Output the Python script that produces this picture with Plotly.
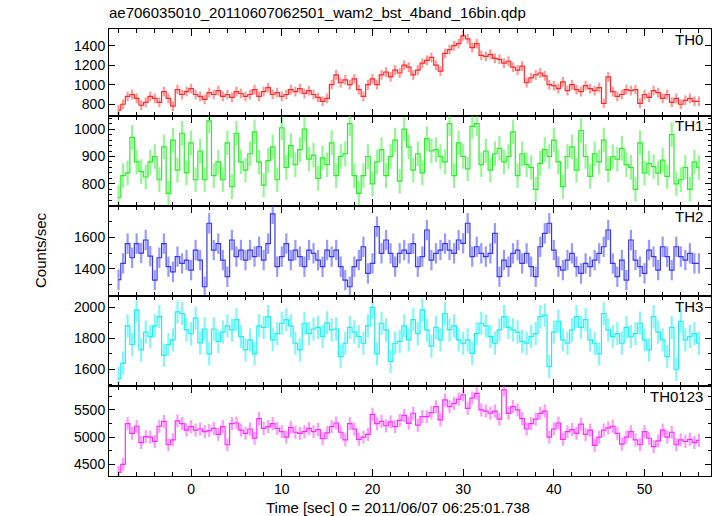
import plotly.graph_objects as go

# ---------------- data (0.5 s bins) ----------------
T_START = -8.0
BIN = 0.5

TH0 = [740, 800, 880, 900, 860, 790, 820, 880, 860, 820, 930, 860, 780, 950, 900, 930,
       960, 900, 880, 850, 920, 900, 940, 880, 900, 870, 930, 910, 880, 900, 950, 880,
       930, 970, 900, 920, 880, 900, 950, 930, 960, 910, 940, 900, 870, 830, 860, 1000,
       1100, 1020, 1050, 1000, 1060, 950, 880, 1000, 1060, 1000, 1100, 1130, 1080, 1150, 1120, 1200,
       1180, 1100, 1150, 1220, 1250, 1280, 1200, 1140, 1320, 1360, 1400, 1420, 1500, 1470, 1380, 1420,
       1300, 1290, 1310, 1270, 1260, 1220, 1240, 1180, 1150, 1190, 1020, 1070, 1100, 1120, 1090, 1000,
       990, 960, 1030, 940, 1000, 950, 930, 990, 960, 940, 970, 810, 1080, 930, 880, 900,
       950, 940, 950, 810, 900, 870, 940, 920, 860, 900, 820, 860, 800, 840, 860, 830, 830]

TH1 = [750, 830, 840, 970, 880, 845, 825, 880, 900, 815, 935, 765, 960, 850, 985, 840,
       950, 815, 920, 815, 1030, 830, 880, 815, 950, 790, 985, 880, 850, 910, 990, 880,
       795, 885, 935, 815, 1005, 860, 940, 870, 925, 1000, 890, 905, 820, 895, 870, 950,
       830, 900, 910, 1020, 830, 765, 830, 900, 800, 880, 925, 830, 900, 960, 810, 1000,
       935, 850, 910, 840, 965, 920, 925, 900, 880, 1020, 830, 950, 900, 855, 1010, 1020,
       870, 920, 850, 910, 930, 880, 900, 990, 830, 910, 870, 860, 780, 875, 925, 900,
       960, 880, 790, 900, 935, 850, 995, 900, 827, 910, 880, 960, 851, 900, 890, 930,
       870, 860, 780, 950, 840, 875, 863, 839, 887, 827, 980, 800, 815, 860, 780, 880, 860]

TH2 = [1330, 1434, 1560, 1470, 1560, 1500, 1583, 1480, 1327, 1470, 1560, 1413, 1380, 1477, 1434, 1455,
       1391, 1519, 1455, 1285, 1690, 1519, 1560, 1455, 1349, 1583, 1477, 1519, 1455, 1519, 1477, 1540,
       1455, 1560, 1750, 1413, 1477, 1560, 1455, 1519, 1477, 1413, 1519, 1498, 1455, 1413, 1519, 1477,
       1519, 1413, 1327, 1285, 1413, 1455, 1540, 1370, 1434, 1668, 1498, 1583, 1498, 1413, 1498, 1519,
       1498, 1560, 1413, 1477, 1647, 1455, 1498, 1519, 1560, 1519, 1498, 1583, 1562, 1690, 1477, 1540,
       1498, 1477, 1498, 1626, 1349, 1455, 1413, 1498, 1519, 1434, 1498, 1413, 1349, 1540, 1626, 1690,
       1519, 1413, 1391, 1455, 1498, 1413, 1370, 1434, 1413, 1455, 1498, 1540, 1647, 1434, 1349, 1455,
       1327, 1583, 1455, 1413, 1370, 1519, 1477, 1391, 1540, 1477, 1391, 1540, 1477, 1455, 1498, 1434, 1434]

TH3 = [1540, 1640, 1880, 1760, 1983, 1725, 1840, 1811, 1880, 1940, 1690, 1760, 1790, 1970, 1960, 1854,
       1830, 1930, 1770, 1860, 1700, 1860, 1780, 1840, 1880, 1854, 1920, 1811, 1725, 1790, 1700, 1880,
       1870, 1940, 1790, 1830, 1897, 1920, 1880, 1768, 1725, 1897, 1830, 1860, 1870, 1811, 1900, 1854,
       1860, 1682, 1768, 1870, 1840, 1811, 1768, 1880, 2000, 1700, 1897, 1854, 1650, 1768, 1780, 1880,
       1790, 1920, 1830, 1983, 1854, 1750, 1870, 1790, 1960, 1854, 1880, 1790, 1768, 1790, 1703, 1830,
       1897, 1880, 1811, 1768, 1854, 1940, 1870, 1854, 1840, 1780, 1768, 1811, 1830, 1940, 1950, 1617,
       1840, 1910, 1790, 1768, 1854, 1940, 1870, 1920, 1790, 1768, 1700, 1960, 1854, 1811, 1830, 1768,
       1870, 1811, 1830, 1897, 1790, 1725, 1940, 1840, 1790, 1682, 1870, 1600, 1910, 1790, 1811, 1830, 1768]

TH0123 = [4350, 4500, 5250, 5071, 5200, 4900, 5010, 5000, 4920, 5200, 5290, 4860, 4950, 5300, 5250, 5130,
          5194, 5130, 5150, 5100, 5120, 5160, 5050, 5194, 4860, 5250, 5260, 5130, 5071, 5150, 4980, 5340,
          5160, 5194, 5250, 5160, 5100, 5000, 5180, 5090, 5071, 5100, 5160, 5100, 5140, 4970, 5080, 5194,
          5260, 5090, 4950, 5250, 5150, 4960, 5000, 5050, 5420, 5250, 5290, 5210, 5280, 5194, 5310, 5400,
          5255, 5440, 5220, 5380, 5377, 5450, 5560, 5316, 5684, 5560, 5620, 5700, 5780, 5530, 5720, 5806,
          5500, 5480, 5440, 5480, 5330, 5868, 5439, 5560, 5500, 5340, 5150, 5250, 5330, 5439, 5480, 5000,
          5150, 5260, 4960, 5100, 5140, 5071, 5240, 5050, 5130, 4850, 5000, 5130, 5170, 5200, 5071, 4870,
          5000, 5100, 4950, 4860, 5100, 4980, 4826, 4930, 5130, 5000, 5090, 4860, 4950, 4920, 4960, 4900, 4940]

PANEL_NAMES = ["TH0", "TH1", "TH2", "TH3", "TH0123"]
PANEL_DATA = [TH0, TH1, TH2, TH3, TH0123]
PANEL_ERR = [50, 45, 65, 75, 120]
Y_RANGES = [[680, 1570], [719, 1048], [1226, 1800], [1492, 2073], [4285, 5941]]
Y_TICKS = [[800, 1000, 1200, 1400], [800, 900, 1000], [1400, 1600],
           [1600, 1800, 2000], [4500, 5000, 5500]]
Y_MINOR = [None, 20, 100, 100, 250]
X_TICKS = [0, 10, 20, 30, 40, 50]

TITLE = "ae706035010_20110607062501_wam2_bst_4band_16bin.qdp"
X_TITLE = "Time [sec] 0 = 2011/06/07 06:25:01.738"
Y_TITLE = "Counts/sec"

LINE_COLORS = ["#ff2a2a", "#2aee2a", "#3838f0", "#1ef0f0", "#ff2aff"]
ERR_COLORS = ["rgba(255,70,70,0.55)", "rgba(60,240,60,0.55)", "rgba(70,70,255,0.55)",
              "rgba(30,240,240,0.55)", "rgba(255,70,255,0.55)"]

# ---------------- layout geometry ----------------
W, H = 717, 516
ML, MR, MT, MB = 109, 6, 29, 40
PH = H - MT - MB
panel_px = [29, 116, 206, 296, 386, 476]


def py(px):
    return (H - MB - px) / PH


FONT = "Liberation Sans, Arial, Helvetica, sans-serif"

fig = go.Figure()
n = len(TH0)
times = [T_START + BIN * i for i in range(n)]

for i, (name, vals) in enumerate(zip(PANEL_NAMES, PANEL_DATA)):
    k = i + 1
    fig.add_trace(go.Scatter(
        x=times, y=vals, mode="lines", line=dict(color=LINE_COLORS[i], width=1.2, shape="hvh"),
        error_y=dict(type="constant", value=PANEL_ERR[i], color=ERR_COLORS[i], thickness=2.2, width=0),
        xaxis=f"x{k}", yaxis=f"y{k}", showlegend=False, hoverinfo="skip"))

layout = dict(
    width=W, height=H, margin=dict(l=ML, r=MR, t=MT, b=MB),
    paper_bgcolor="white", plot_bgcolor="white",
    font=dict(family=FONT, size=14, color="black"),
    showlegend=False,
)
for i in range(5):
    k = i + 1
    suf = "" if k == 1 else str(k)
    dom = [py(panel_px[i + 1]), py(panel_px[i])]
    layout["xaxis" + suf] = dict(
        domain=[0, 1], anchor="y" + str(k), range=[-9.05, 57.33],
        showline=True, linecolor="black", linewidth=1, mirror="allticks",
        ticks="inside", ticklen=7, tickcolor="black", tickvals=X_TICKS,
        minor=dict(ticks="inside", ticklen=4, dtick=2, tick0=0, tickcolor="black"),
        showgrid=False, zeroline=False, showticklabels=(k == 5),
        tickfont=dict(size=14, family=FONT, color="black"),
    )
    ydict = dict(
        domain=dom, anchor="x" + str(k), range=Y_RANGES[i],
        showline=True, linecolor="black", linewidth=1, mirror="allticks",
        ticks="inside", ticklen=6, tickcolor="black", tickvals=Y_TICKS[i],
        showgrid=False, zeroline=False,
        tickfont=dict(size=14, family=FONT, color="black"),
    )
    if Y_MINOR[i]:
        ydict["minor"] = dict(ticks="inside", ticklen=3, dtick=Y_MINOR[i], tickcolor="black")
    layout["yaxis" + suf] = ydict

annotations = [
    dict(text=TITLE, xref="paper", yref="paper", x=-0.003, y=py(13), xanchor="left",
         yanchor="middle", showarrow=False, font=dict(size=15, family=FONT, color="black")),
    dict(text=X_TITLE, xref="paper", yref="paper", x=(398 - ML) / (W - ML - MR), y=py(507),
         xanchor="center", yanchor="middle", showarrow=False,
         font=dict(size=15, family=FONT, color="black")),
    dict(text=Y_TITLE, xref="paper", yref="paper", x=(40 - ML) / (W - ML - MR), y=py(250),
         xanchor="center", yanchor="middle", textangle=-90, showarrow=False,
         font=dict(size=15, family=FONT, color="black")),
]
for i, name in enumerate(PANEL_NAMES):
    annotations.append(dict(
        text=name, xref="paper", yref="paper", x=(705 - ML) / (W - ML - MR),
        y=py(panel_px[i] + 10), xanchor="right", yanchor="middle", showarrow=False,
        font=dict(size=15, family=FONT, color="black")))
layout["annotations"] = annotations

fig.update_layout(**layout)
fig.write_html("out.html", config={"displayModeBar": False},
               post_script="document.body.style.margin='0px';document.body.style.overflow='hidden';")
